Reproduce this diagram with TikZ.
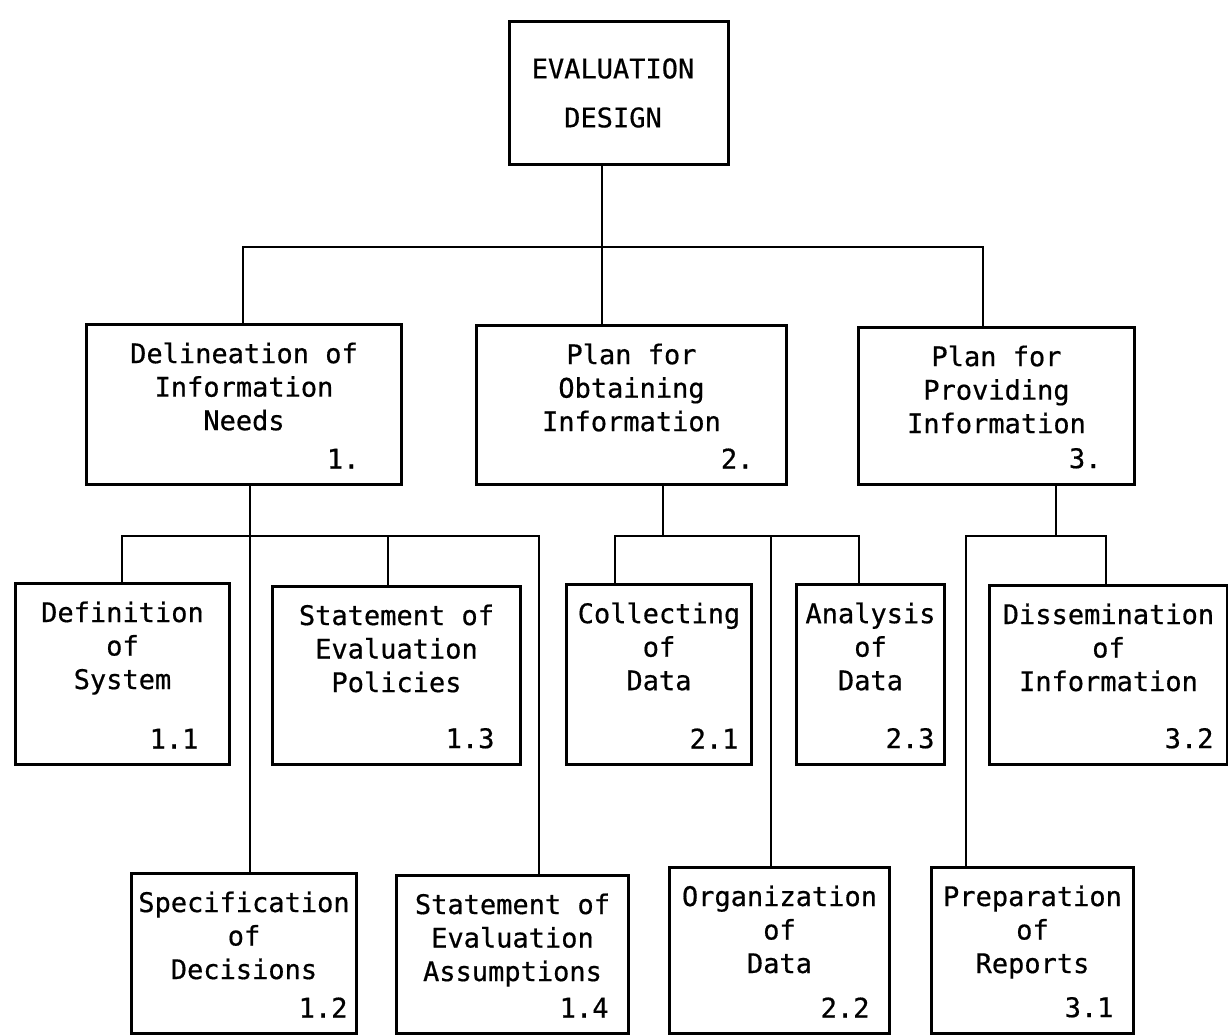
\documentclass[tikz,border=0pt]{standalone}
\usepackage{fontspec}
\setmainfont[FakeBold=0.6]{DejaVu Sans Mono}
\usepackage{tikz}

% box text: width, height (px), lines, number, number inset (px)
\newcommand{\boxtext}[5]{%
  \begin{minipage}[c][\dimexpr #2pt/2\relax][t]{\dimexpr #1pt/2\relax}
    \vspace*{9pt}\centering #3\par\vfill
    \raggedleft #4\hspace*{\dimexpr #5pt/2\relax}\par\vspace*{8pt}
  \end{minipage}}

\begin{document}
\begin{tikzpicture}[x=0.5pt, y=-0.5pt,
    blok/.style={draw, line width=1.5pt, inner sep=0pt, anchor=north west,
      font=\fontsize{13.5}{16.75}\selectfont},
    wire/.style={line width=1.4pt}]
  \useasboundingbox (0,0) rectangle (1228,1035);
  \node[blok, minimum width=109.5pt, minimum height=71.5pt, align=center] (design) at (508,20)
    {EVALUATION\hspace*{6pt}\\[7.75pt]DESIGN\hspace*{6pt}};
  % level 1
  \node[blok] (need) at (85,323) {\boxtext{315}{160}{Delineation of\\Information\\Needs}{1.}{42}};
  \node[blok] (obtain) at (475,324) {\boxtext{310}{159}{Plan for\\Obtaining\\Information}{2.}{33}};
  \node[blok] (provide) at (857,326) {\boxtext{276}{157}{Plan for\\Providing\\Information}{3.}{33}};
  % level 2
  \node[blok] (sys) at (14,582) {\boxtext{214}{181}{Definition\\of\\System}{1.1}{31}};
  \node[blok] (policy) at (271,585) {\boxtext{248}{178}{Statement of\\Evaluation\\Policies}{1.3}{26}};
  \node[blok] (collect) at (565,583) {\boxtext{185}{180}{Collecting\\of\\Data}{2.1}{13}};
  \node[blok] (analyse) at (795,583) {\boxtext{148}{180}{Analysis\\of\\Data}{2.3}{10}};
  \node[blok] (dissem) at (988,584) {\boxtext{238}{179}{Dissemination\\of\\Information}{3.2}{14}};
  % level 3
  \node[blok] (decide) at (130,872) {\boxtext{225}{160}{Specification\\of\\Decisions}{1.2}{9}};
  \node[blok] (assume) at (395,874) {\boxtext{232}{158}{Statement of\\Evaluation\\Assumptions}{1.4}{20}};
  \node[blok] (organ) at (668,866) {\boxtext{220}{166}{Organization\\of\\Data}{2.2}{20}};
  \node[blok] (report) at (930,866) {\boxtext{202}{166}{Preparation\\of\\Reports}{3.1}{20}};

  % bus points
  \coordinate (k0) at (602,247); \coordinate (k1) at (243,247); \coordinate (k3) at (983,247);
  \coordinate (a1) at (122,536); \coordinate (a2) at (250,536);
  \coordinate (a3) at (388,536); \coordinate (a4) at (539,536);
  \coordinate (c0) at (663,536); \coordinate (c1) at (615,536);
  \coordinate (c2) at (771,536); \coordinate (c3) at (859,536);
  \coordinate (d0) at (1056,536); \coordinate (d1) at (966,536); \coordinate (d2) at (1106,536);

  \draw[wire] (design.south -| k0) -- (obtain.north -| k0);
  \draw[wire] (need.north -| k1) -- (k1) -- (k3) -- (provide.north -| k3);
  % needs
  \draw[wire] (need.south -| a2) -- (decide.north -| a2);
  \draw[wire] (sys.north -| a1) -- (a1) -- (a4) -- (assume.north -| a4);
  \draw[wire] (a3) -- (policy.north -| a3);
  % obtaining
  \draw[wire] (obtain.south -| c0) -- (c0);
  \draw[wire] (collect.north -| c1) -- (c1) -- (c3) -- (analyse.north -| c3);
  \draw[wire] (c2) -- (organ.north -| c2);
  % providing
  \draw[wire] (provide.south -| d0) -- (d0);
  \draw[wire] (report.north -| d1) -- (d1) -- (d2) -- (dissem.north -| d2);
\end{tikzpicture}
\end{document}
